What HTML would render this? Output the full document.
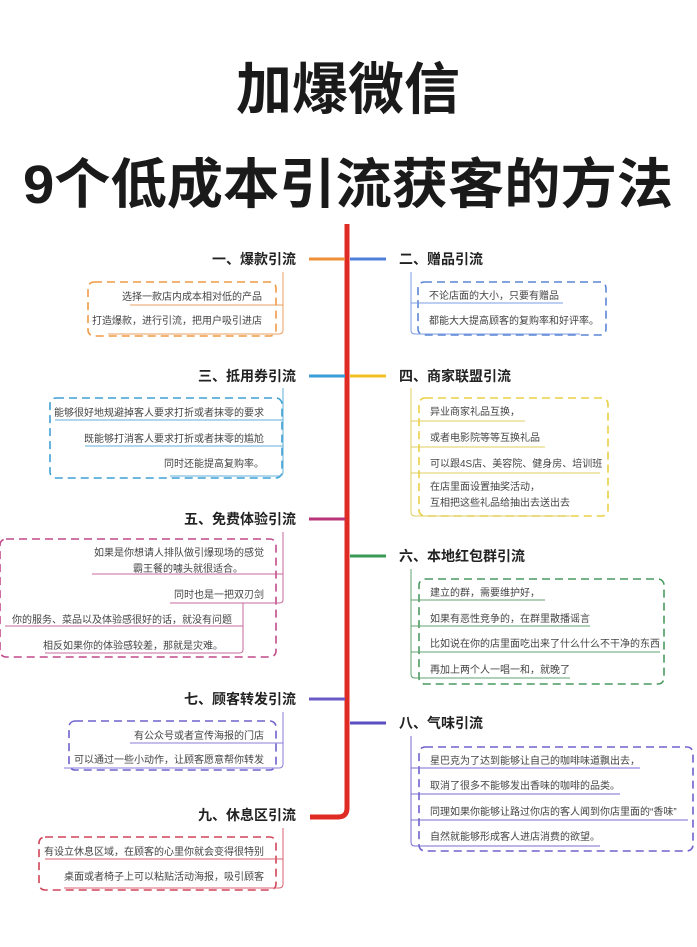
<!DOCTYPE html>
<html><head><meta charset="utf-8"><style>
html,body{margin:0;padding:0;background:#fff}
svg{display:block}
text{font-family:"Liberation Sans","Noto Sans CJK SC",sans-serif}
.t{font-size:10px;fill:#444}
.h{font-size:14px;font-weight:bold;fill:#222}
.title{font-weight:bold;fill:#1a1a1a}
</style></head><body>
<svg width="697" height="947" viewBox="0 0 697 947" xmlns="http://www.w3.org/2000/svg">
<rect width="697" height="947" fill="#fff"/>
<text class="title" x="348" y="109" text-anchor="middle" textLength="224" lengthAdjust="spacingAndGlyphs" style="font-size:56px">加爆微信</text>
<text class="title" x="348" y="203" text-anchor="middle" textLength="650" lengthAdjust="spacingAndGlyphs" style="font-size:54px">9个低成本引流获客的方法</text>

<!-- trunk -->
<path d="M347 224 V808 Q347 817 338 817 H310" stroke="#e02a24" stroke-width="5" fill="none"/>

<!-- branches -->
<g stroke-width="3" fill="none">
<line x1="309" y1="259" x2="345" y2="259" stroke="#ef8f3a"/>
<line x1="350" y1="259" x2="386" y2="259" stroke="#4f7fd9"/>
<line x1="309" y1="376" x2="345" y2="376" stroke="#3a9ed8"/>
<line x1="350" y1="376" x2="386" y2="376" stroke="#f2c021"/>
<line x1="309" y1="519" x2="345" y2="519" stroke="#b8337a"/>
<line x1="350" y1="556" x2="386" y2="556" stroke="#3a9a55"/>
<line x1="309" y1="699" x2="345" y2="699" stroke="#6a5ac8"/>
<line x1="350" y1="723" x2="386" y2="723" stroke="#5a4ec0"/>
</g>

<!-- headings -->
<text class="h" x="296" y="264" text-anchor="end">一、爆款引流</text>
<text class="h" x="399" y="264">二、赠品引流</text>
<text class="h" x="296" y="381" text-anchor="end">三、抵用券引流</text>
<text class="h" x="399" y="381">四、商家联盟引流</text>
<text class="h" x="296" y="524" text-anchor="end">五、免费体验引流</text>
<text class="h" x="399" y="561">六、本地红包群引流</text>
<text class="h" x="296" y="704" text-anchor="end">七、顾客转发引流</text>
<text class="h" x="399" y="728">八、气味引流</text>
<text class="h" x="296" y="820" text-anchor="end">九、休息区引流</text>

<!-- boxes -->
<g fill="none" stroke-width="1.6" stroke-dasharray="8,5">
<rect x="88" y="282" width="188" height="54" rx="6" stroke="#ef9a45"/>
<rect x="418" y="282" width="188" height="53" rx="6" stroke="#5b86d6"/>
<rect x="50" y="398" width="232" height="80" rx="6" stroke="#3fa0d5"/>
<rect x="419" y="398" width="189" height="118" rx="6" stroke="#ead045"/>
<rect x="0" y="539" width="276" height="118" rx="6" stroke="#c24a8a"/>
<rect x="419" y="579" width="245" height="105" rx="6" stroke="#4a9a60"/>
<rect x="69" y="721" width="207" height="49" rx="6" stroke="#6e62cc"/>
<rect x="419" y="747" width="274" height="104" rx="6" stroke="#6e62cc"/>
<rect x="39" y="837" width="237" height="53" rx="6" stroke="#d04458"/>
</g>

<!-- connector brackets and underlines -->
<g fill="none" stroke-width="1">
<path d="M283 272 V330 Q283 334 279 334 H108 M283 305 H130" stroke="#e8a060"/>
<path d="M283 388 V472 Q283 476 279 476 H170 M283 420 H55 M283 446 H85" stroke="#60b0d8"/>
<path d="M283 532 V600 Q283 603 279 603 H170 M283 574 H92 M243 603 V650 Q243 653 239 653 H45 M243 626 H5" stroke="#c86a9c"/>
<path d="M283 712 V764 Q283 768 279 768 H64 M283 743 H130" stroke="#8a7ed8"/>
<path d="M283 828 V884 Q283 888 279 888 H64 M283 859 H45" stroke="#d86070"/>
<path d="M411 272 V330 Q411 334 415 334 H580 M411 303 H563" stroke="#7d9ee0"/>
<path d="M411 388 V512 Q411 516 415 516 H570 M411 421 H525 M411 447 H545 M411 473 H600" stroke="#e0cc60"/>
<path d="M411 569 V674 Q411 678 415 678 H570 M411 600 H545 M411 626 H590 M411 652 H660" stroke="#60a070"/>
<path d="M411 736 V842 Q411 846 415 846 H600 M411 768 H640 M411 794 H620 M411 820 H688" stroke="#7a6ed0"/>
</g>

<!-- item texts -->
<text class="t" x="262" y="300" text-anchor="end">选择一款店内成本相对低的产品</text>
<text class="t" x="262" y="324" text-anchor="end">打造爆款，进行引流，把用户吸引进店</text>

<text class="t" x="429" y="299">不论店面的大小，只要有赠品</text>
<text class="t" x="429" y="324">都能大大提高顾客的复购率和好评率。</text>

<text class="t" x="264" y="416" text-anchor="end">能够很好地规避掉客人要求打折或者抹零的要求</text>
<text class="t" x="264" y="442" text-anchor="end">既能够打消客人要求打折或者抹零的尴尬</text>
<text class="t" x="264" y="467" text-anchor="end">同时还能提高复购率。</text>

<text class="t" x="430" y="415">异业商家礼品互换，</text>
<text class="t" x="430" y="441">或者电影院等等互换礼品</text>
<text class="t" x="430" y="467">可以跟4S店、美容院、健身房、培训班</text>
<text class="t" x="430" y="490">在店里面设置抽奖活动，</text>
<text class="t" x="430" y="506">互相把这些礼品给抽出去送出去</text>

<text class="t" x="264" y="556" text-anchor="end">如果是你想请人排队做引爆现场的感觉</text>
<text class="t" x="243" y="572" text-anchor="end">霸王餐的噱头就很适合。</text>
<text class="t" x="264" y="598" text-anchor="end">同时也是一把双刃剑</text>
<text class="t" x="12" y="623">你的服务、菜品以及体验感很好的话，就没有问题</text>
<text class="t" x="223" y="649" text-anchor="end">相反如果你的体验感较差，那就是灾难。</text>

<text class="t" x="430" y="596">建立的群，需要维护好，</text>
<text class="t" x="430" y="622">如果有恶性竞争的，在群里散播谣言</text>
<text class="t" x="430" y="647">比如说在你的店里面吃出来了什么什么不干净的东西</text>
<text class="t" x="430" y="673">再加上两个人一唱一和，就晚了</text>

<text class="t" x="264" y="739" text-anchor="end">有公众号或者宣传海报的门店</text>
<text class="t" x="264" y="763" text-anchor="end">可以通过一些小动作，让顾客愿意帮你转发</text>

<text class="t" x="430" y="764">星巴克为了达到能够让自己的咖啡味道飘出去，</text>
<text class="t" x="430" y="789">取消了很多不能够发出香味的咖啡的品类。</text>
<text class="t" x="430" y="815">同理如果你能够让路过你店的客人闻到你店里面的“香味”</text>
<text class="t" x="430" y="840">自然就能够形成客人进店消费的欲望。</text>

<text class="t" x="264" y="855" text-anchor="end">有设立休息区域，在顾客的心里你就会变得很特别</text>
<text class="t" x="264" y="880" text-anchor="end">桌面或者椅子上可以粘贴活动海报，吸引顾客</text>
</svg>
</body></html>
